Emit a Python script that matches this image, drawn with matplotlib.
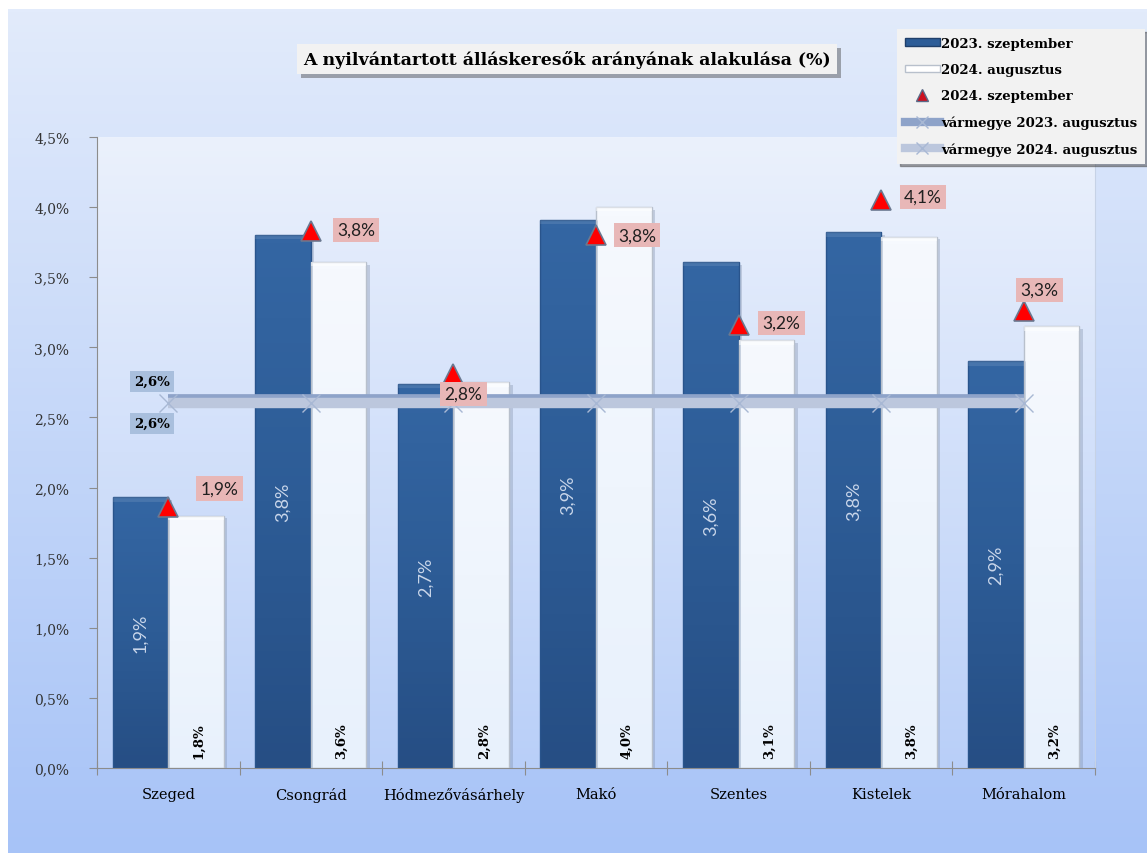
import numpy as np
import matplotlib
matplotlib.use("Agg")
import matplotlib.pyplot as plt
from matplotlib.patches import Rectangle, Patch
from matplotlib.lines import Line2D
import matplotlib.patheffects as pe
from matplotlib.colors import LinearSegmentedColormap

# ---------------- data ----------------
categories = ["Szeged", "Csongrád", "Hódmezővásárhely", "Makó", "Szentes", "Kistelek", "Mórahalom"]
sep_2023 = [1.93, 3.80, 2.74, 3.91, 3.61, 3.82, 2.90]
aug_2024 = [1.80, 3.61, 2.75, 4.00, 3.05, 3.79, 3.15]
sep_2024 = [1.86, 3.83, 2.81, 3.80, 3.16, 4.05, 3.26]
county_aug_2023 = [2.63] * 7
county_aug_2024 = [2.60] * 7

sep_2023_labels = ["1,9%", "3,8%", "2,7%", "3,9%", "3,6%", "3,8%", "2,9%"]
aug_2024_labels = ["1,8%", "3,6%", "2,8%", "4,0%", "3,1%", "3,8%", "3,2%"]
sep_2024_labels = ["1,9%", "3,8%", "2,8%", "3,8%", "3,2%", "4,1%", "3,3%"]
county_2023_label = "2,6%"
county_2024_label = "2,6%"

yticks = [0.0, 0.5, 1.0, 1.5, 2.0, 2.5, 3.0, 3.5, 4.0, 4.5]
ytick_labels = ["0,0%", "0,5%", "1,0%", "1,5%", "2,0%", "2,5%", "3,0%", "3,5%", "4,0%", "4,5%"]
title = "A nyilvántartott álláskeresők arányának alakulása (%)"
legend_labels = ["2023. szeptember", "2024. augusztus", "2024. szeptember",
                 "vármegye 2023. augusztus", "vármegye 2024. augusztus"]

# ---------------- figure ----------------
W, H = 1147, 854
fig = plt.figure(figsize=(W / 100, H / 100), dpi=100)
fig.patch.set_facecolor("white")

SERIF = ["DejaVu Serif"]
SANS = ["Lato", "DejaVu Sans"]

# outer chart background gradient (light top -> blue bottom)
bg = fig.add_axes([8 / W, 0, 1 - 8 / W, 1 - 10 / H], zorder=-10)
bg.axis("off")
cm_bg = LinearSegmentedColormap.from_list("bg", ["#e2ebfb", "#a7c3f7"])
bg.imshow(np.linspace(0, 1, 256).reshape(-1, 1), aspect="auto", cmap=cm_bg,
          extent=[0, 1, 0, 1], origin="upper")
bg.set_xlim(0, 1); bg.set_ylim(0, 1)

# plot area
ax = fig.add_axes([97 / W, 1 - 769 / H, (1095 - 97) / W, (769 - 138) / H])
ax.patch.set_alpha(0)
cm_pa = LinearSegmentedColormap.from_list("pa", ["#ebf1fc", "#b9cff8"])
ax.imshow(np.linspace(0, 1, 256).reshape(-1, 1), aspect="auto", cmap=cm_pa,
          extent=[-0.5, 6.5, 0, 4.5], origin="upper", zorder=0)
ax.set_xlim(-0.5, 6.5)
ax.set_ylim(0, 4.5)

x = np.arange(len(categories))
bw = 0.39

cm_dark = LinearSegmentedColormap.from_list("dk", ["#3466a3", "#2d5c96", "#264e84"])
cm_light = LinearSegmentedColormap.from_list("lt", ["#f6f9fe", "#eff5fd", "#e8f1fc"])

def grad_bar(xc, h, cmap, edge, hl_alpha):
    left = xc - bw / 2
    sh = Rectangle((left + 0.025, 0), bw, h - 0.02, facecolor="#7f8ea8", alpha=0.35,
                   edgecolor="none", zorder=1)
    ax.add_patch(sh)
    r = Rectangle((left, 0), bw, h, facecolor="none", edgecolor=edge, linewidth=1.0, zorder=3)
    ax.add_patch(r)
    img = ax.imshow(np.linspace(0, 1, 64).reshape(-1, 1), aspect="auto", cmap=cmap,
                    extent=[left, left + bw, 0, h], origin="upper", zorder=2)
    img.set_clip_path(r)
    ax.add_patch(Rectangle((left, h - 0.03), bw, 0.03, facecolor="white", alpha=hl_alpha,
                           edgecolor="none", zorder=3))

for i in range(len(categories)):
    grad_bar(x[i] - bw / 2, sep_2023[i], cm_dark, "#29548c", 0.10)
    grad_bar(x[i] + bw / 2, aug_2024[i], cm_light, "#b8c0cc", 0.5)

# labels inside bars
for i in range(len(categories)):
    ax.text(x[i] - bw / 2, sep_2023[i] / 2, sep_2023_labels[i], rotation=90,
            ha="center", va="center", color="#c9d6ea", fontsize=13, family=SANS, zorder=6)
    ax.text(x[i] + bw / 2 + 0.02, 0.2, aug_2024_labels[i], rotation=90,
            ha="center", va="center", color="black", fontsize=9.5, family=SERIF,
            fontweight="bold", zorder=6)

# county lines
ax.plot(x, county_aug_2023, color="#8ea3c9", lw=7, solid_capstyle="butt", zorder=4)
ax.plot(x, county_aug_2024, color="#bcc7dd", lw=7.5, solid_capstyle="butt", zorder=4)
ax.plot(x, county_aug_2024, ls="none", marker="x", ms=13, mew=1.0, color="#a8b8d4", zorder=5)

for txt, dy in [(county_2023_label, -22), (county_2024_label, 20)]:
    ax.annotate(txt, xy=(x[0], county_aug_2024[0]), xytext=(-16, -dy), textcoords="offset pixels",
                ha="center", va="center", fontsize=9.5, family=SERIF, fontweight="bold",
                color="black", zorder=8,
                bbox=dict(boxstyle="square,pad=0.3", facecolor="#a9bfdd", edgecolor="none"))

# triangles
ax.plot(x, sep_2024, ls="none", marker="^", ms=15, mfc="#ff0000", mec="#6a7890", mew=1.2, zorder=7)
tri_offsets = [(51, 19), (45, 1), (10, -20), (41, 0), (43, 2), (42, 3), (16, 21)]
for i in range(len(categories)):
    dx, dy = tri_offsets[i]
    ax.annotate(sep_2024_labels[i], xy=(x[i], sep_2024[i]), xytext=(dx, dy),
                textcoords="offset pixels", ha="center", va="center", fontsize=12.5,
                family=SANS, color="#202020", zorder=8,
                bbox=dict(boxstyle="square,pad=0.25", facecolor="#e8b7b7", edgecolor="none"))

# axes styling
ax.spines["top"].set_visible(False)
ax.spines["right"].set_color("#c6d2e6")
ax.spines["left"].set_color("#8c8c8c")
ax.spines["bottom"].set_color("#8c8c8c")
ax.set_yticks(yticks)
ax.set_yticklabels(ytick_labels, family=SERIF, fontsize=10, color="#333333")
ax.tick_params(axis="y", direction="out", length=6, color="#8c8c8c", pad=14)
ax.set_xticks(np.arange(-0.5, 7, 1.0))
ax.set_xticklabels([])
ax.tick_params(axis="x", which="major", direction="inout", length=10, color="#8c8c8c")
ax.set_xticks(x, minor=True)
ax.set_xticklabels(categories, minor=True, family=SERIF, fontsize=10.5, color="black")
ax.tick_params(axis="x", which="minor", length=0, pad=14)

# title
t = fig.text(567 / W, 1 - 60 / H, title, ha="center", va="center", fontsize=12.5,
             family=SERIF, fontweight="bold", color="black",
             bbox=dict(boxstyle="square,pad=0.35", facecolor="#f2f2f2", edgecolor="none"))
t.get_bbox_patch().set_path_effects([pe.SimplePatchShadow(offset=(3, -3), alpha=0.45), pe.Normal()])

# legend
handles = [
    Patch(facecolor="#2d5d98", edgecolor="#1f3f6a"),
    Patch(facecolor="#ffffff", edgecolor="#b8c0cc"),
    Line2D([], [], ls="none", marker="^", ms=9, mfc="#cc1020", mec="#5a6a88"),
    Line2D([], [], color="#8ea3c9", lw=6, marker="x", ms=8, mec="#a8b8d4"),
    Line2D([], [], color="#bcc7dd", lw=6, marker="x", ms=8, mec="#a8b8d4"),
]
leg = fig.legend(handles, legend_labels, loc="upper right", bbox_to_anchor=(1145 / W, 1 - 30 / H),
                 frameon=True, fancybox=False, shadow=True, borderaxespad=0,
                 prop=dict(family=SERIF, weight="bold", size=9.5),
                 handlelength=2.6, handleheight=0.5, handletextpad=0.1, labelspacing=1.0,
                 borderpad=0.6)
leg.get_frame().set_facecolor("#f2f2f2")
leg.get_frame().set_edgecolor("none")

fig.savefig("out.png", dpi=100)
